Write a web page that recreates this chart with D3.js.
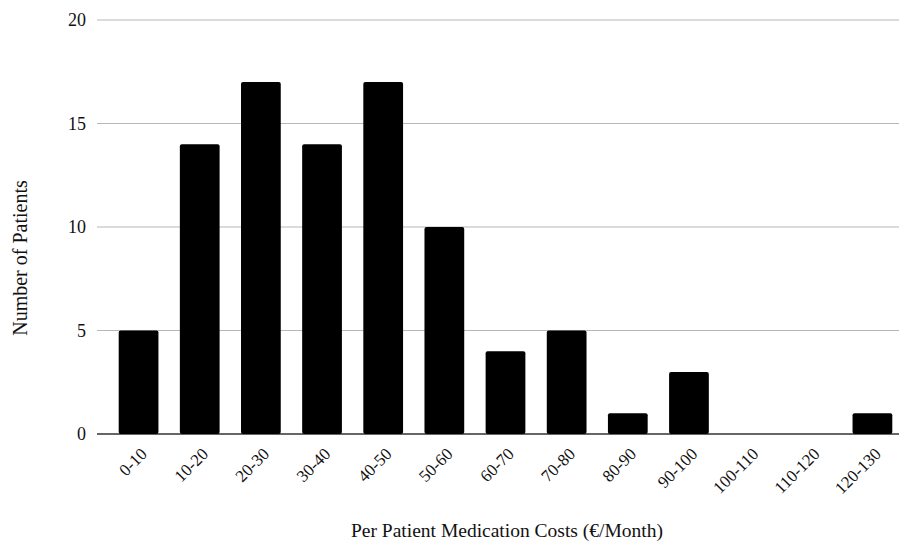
<!DOCTYPE html>
<html>
<head>
<meta charset="utf-8">
<script src="https://cdn.jsdelivr.net/npm/d3@7"></script>
<style>
	body { margin: 0; background: #fff; }
	svg { display: block; font-family: "Liberation Serif", "Times New Roman", serif; }
</style>
</head>
<body>
<div id="chart"></div>
<script>
"use strict";

// Cost bins and patient counts
const costBins = ["0-10", "10-20", "20-30", "30-40", "40-50", "50-60", "60-70", "70-80", "80-90", "90-100", "100-110", "110-120", "120-130"];
const patientCounts = [5, 14, 17, 14, 17, 10, 4, 5, 1, 3, 0, 0, 1];
const yTicks = [0, 5, 10, 15, 20];

const width = 899;
const height = 543;

const svg = d3.select("#chart")
	.append("svg")
	.attr("width", width)
	.attr("height", height);

const x = d3.scaleBand()
	.domain(costBins)
	.range([108, 903])
	.paddingInner(0.35)
	.paddingOuter(0.175);

const y = d3.scaleLinear()
	.domain([0, 20])
	.range([434, 20]);

// gridlines
svg.selectAll("line.grid")
	.data(yTicks)
	.enter()
	.append("line")
	.attr("class", "grid")
	.attr("x1", 97)
	.attr("x2", width)
	.attr("y1", d => y(d))
	.attr("y2", d => y(d))
	.style("stroke", d => d === 0 ? "#333" : "#b7b7b7")
	.style("stroke-width", d => d === 0 ? 1.3 : 1);

// y tick labels
svg.selectAll("text.ytick")
	.data(yTicks)
	.enter()
	.append("text")
	.attr("class", "ytick")
	.attr("x", 86)
	.attr("y", d => y(d) + 6)
	.attr("text-anchor", "end")
	.style("font-size", "18px")
	.style("fill", "#111")
	.text(d => d);

// bars
svg.selectAll("rect.bar")
	.data(patientCounts)
	.enter()
	.append("rect")
	.attr("class", "bar")
	.attr("x", (d, i) => x(costBins[i]))
	.attr("width", x.bandwidth())
	.attr("y", d => y(d))
	.attr("height", d => y(0) - y(d))
	.attr("rx", d => d > 0 ? 2 : 0)
	.style("fill", "#000");

// x tick labels, rotated
svg.selectAll("text.xtick")
	.data(costBins)
	.enter()
	.append("text")
	.attr("class", "xtick")
	.attr("transform", d => `translate(${x(d) + x.bandwidth() / 2 + 9.5},${455}) rotate(-45)`)
	.attr("text-anchor", "end")
	.style("font-size", "17px")
	.style("fill", "#111")
	.text(d => d);

// axis titles
svg.append("text")
	.attr("x", 507)
	.attr("y", 537)
	.attr("text-anchor", "middle")
	.style("font-size", "19.5px")
	.style("fill", "#111")
	.text("Per Patient Medication Costs (€/Month)");

svg.append("text")
	.attr("transform", "translate(27,258) rotate(-90)")
	.attr("text-anchor", "middle")
	.style("font-size", "20px")
	.style("fill", "#111")
	.text("Number of Patients");
</script>
</body>
</html>
